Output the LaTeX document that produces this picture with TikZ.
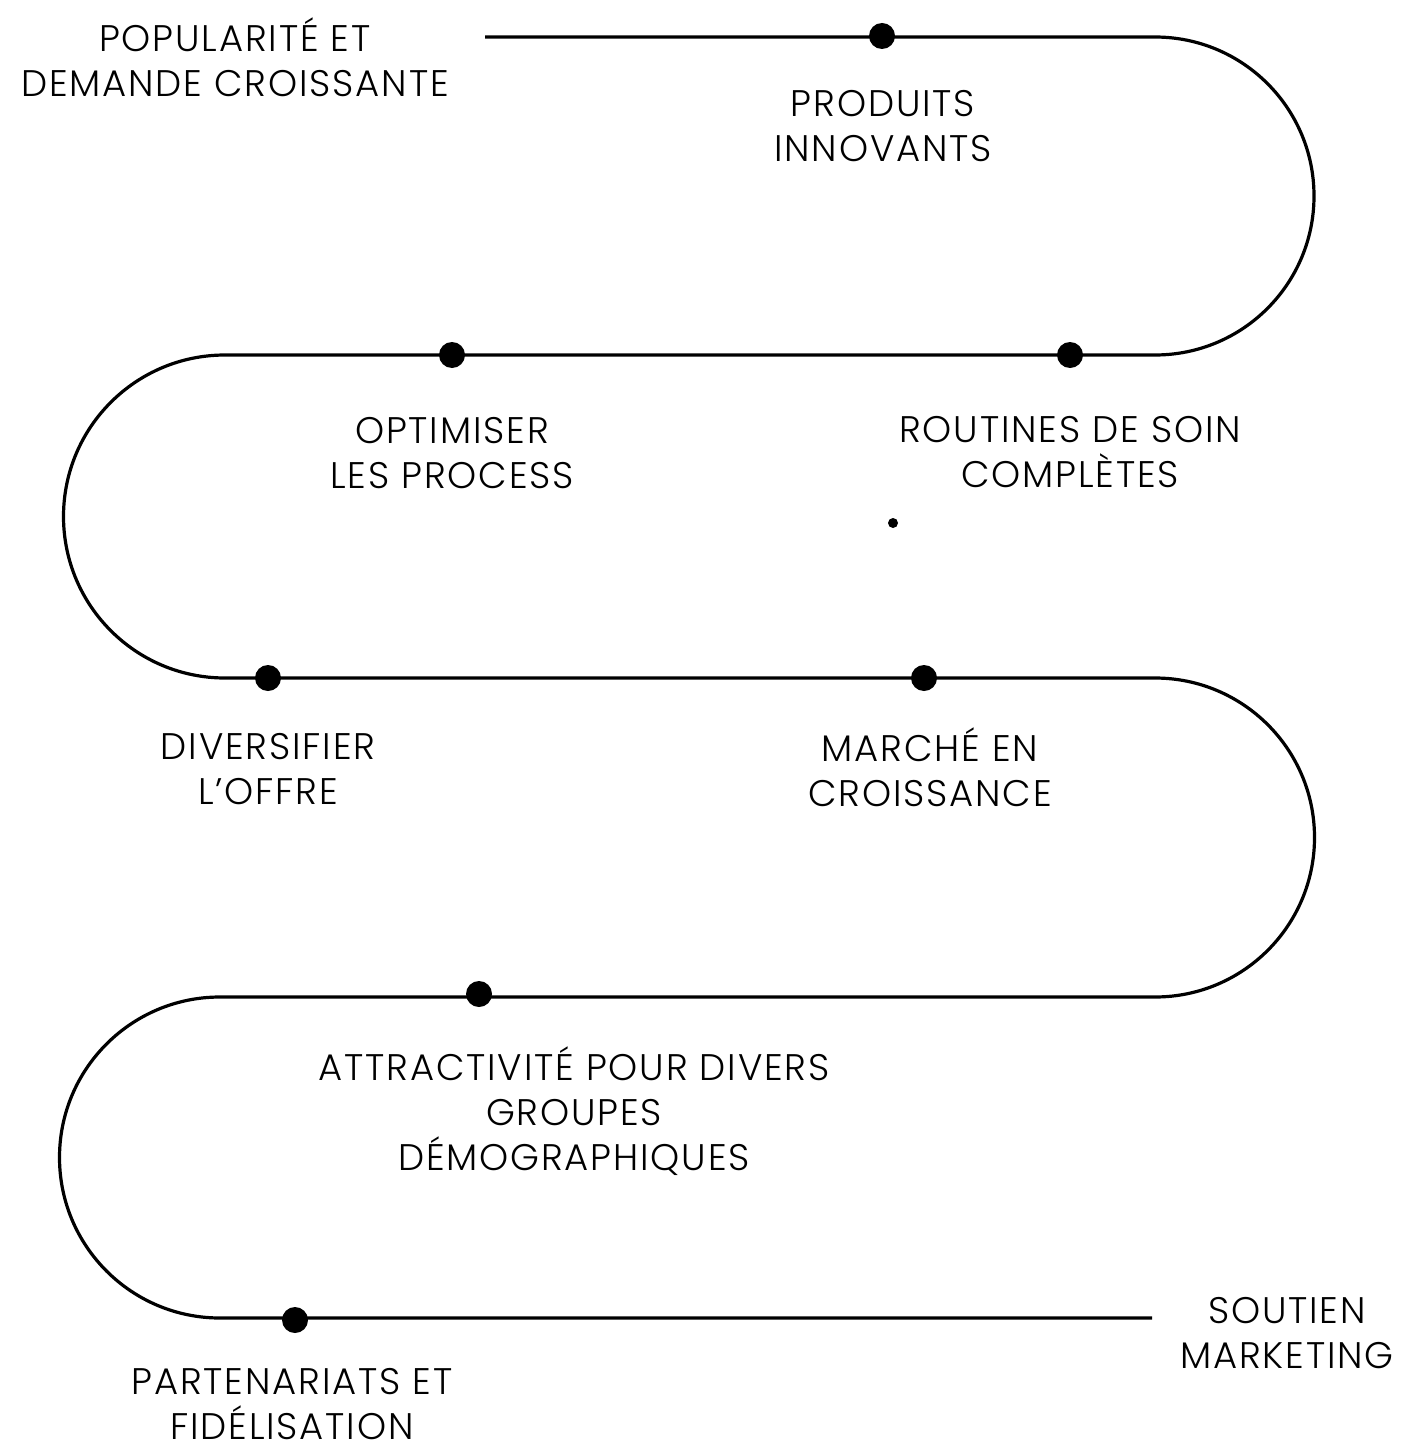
\documentclass[tikz,border=0pt]{standalone}
\usepackage{fontspec}
\setmainfont{Poppins}[UprightFont=* Light,LetterSpace=5]
\begin{document}
\begin{tikzpicture}[x=1pt,y=1pt,
  lab/.style={align=center,font=\fontsize{37}{45}\selectfont,inner sep=0pt},
  bigdot/.style={circle,fill=black,minimum size=26pt,inner sep=0pt},
  smalldot/.style={circle,fill=black,minimum size=10pt,inner sep=0pt},
  road/.style={line width=3.2pt}]
\useasboundingbox (0,0) rectangle (1401,-1450);
% path corners
\coordinate (s0) at (485,-37);
\coordinate (a1) at (1155,-37);
\coordinate (b1) at (1155,-355);
\coordinate (a2) at (225,-355);
\coordinate (b2) at (225,-678);
\coordinate (a3) at (1155,-678);
\coordinate (b3) at (1155,-997);
\coordinate (a4) at (220,-997);
\coordinate (b4) at (220,-1318);
\coordinate (e0) at (1152,-1318);
\draw[road] (s0) -- (a1) arc[start angle=90,end angle=-90,radius=159]
  -- (a2) arc[start angle=90,end angle=270,radius=161.5]
  -- (a3) arc[start angle=90,end angle=-90,radius=159.5]
  -- (a4) arc[start angle=90,end angle=270,radius=160.5]
  -- (e0);
% dots
\node[bigdot] (d1) at (882,-36) {};
\node[bigdot] (d2) at (452,-355) {};
\node[bigdot] (d3) at (1070,-355) {};
\node[bigdot] (d4) at (268,-678) {};
\node[bigdot] (d5) at (924,-678) {};
\node[bigdot] (d6) at (479,-994) {};
\node[bigdot] (d7) at (295,-1320) {};
\node[smalldot] (d8) at (893,-523) {};
% labels
\node[lab] (t1) at (235,-57) {POPULARITÉ ET\\DEMANDE CROISSANTE};
\node[lab] (t2) at (883,-126) {PRODUITS\\INNOVANTS};
\node[lab] (t3) at (452,-453) {OPTIMISER\\LES PROCESS};
\node[lab] (t4) at (1070,-452) {ROUTINES DE SOIN\\COMPLÈTES};
\node[lab] (t5) at (268,-769) {DIVERSIFIER\\L’OFFRE};
\node[lab] (t6) at (930,-767) {MARCHÉ EN\\CROISSANCE};
\node[lab] (t7) at (574,-1111) {ATTRACTIVITÉ POUR DIVERS\\GROUPES\\DÉMOGRAPHIQUES};
\node[lab] (t8) at (292,-1404) {PARTENARIATS ET\\FIDÉLISATION};
\node[lab] (t9) at (1287,-1333) {SOUTIEN\\MARKETING};
\end{tikzpicture}
\end{document}
